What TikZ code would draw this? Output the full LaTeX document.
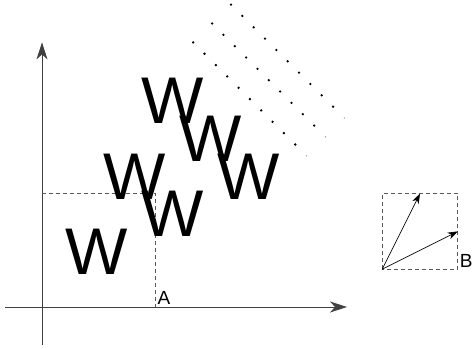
\documentclass[tikz,border=0pt]{standalone}
\usepackage{fontspec}
\setmainfont{Liberation Sans}
\usetikzlibrary{arrows.meta}

\tikzset{
  axis/.style={draw=black!75,line width=.8pt,-{Stealth[length=17pt,width=11pt,inset=5pt]}},
  guide/.style={draw=black!65,line width=.6pt,dash pattern=on 4pt off 3pt},
  vec/.style={draw,line width=.6pt,-{Stealth[length=10pt,width=7pt,inset=3pt]}},
  letter/.style={font=\fontsize{66}{66}\selectfont,inner sep=0pt},
  tag/.style={font=\fontsize{19}{19}\selectfont,inner sep=2pt,anchor=south west},
  dot/.style={fill=black},
}

\begin{document}
\begin{tikzpicture}[x=37.8pt,y=37.8pt]
  \useasboundingbox (-1.111,-1.085) rectangle (11.429,8.122);

  % axes
  \coordinate (xs) at (-0.98,0);
  \coordinate (xe) at (8.07,0);
  \coordinate (ys) at (0,-1);
  \coordinate (ye) at (0,7);
  \path[axis] (xs) -- (xe);
  \path[axis] (ys) -- (ye);

  % projection of A
  \coordinate (a) at (3,3);
  \coordinate (ax) at (3,0);
  \coordinate (ay) at (0,3);
  \path[guide] (ay) -- (a) -- (ax);
  \node[tag] (lblA) at (ax) {A};

  % the letters on the lattice
  \foreach \i/\j in {0/0,1/0,0/1,1/1,2/0,0/2}
    \node[letter] (w\i\j) at ({1.455+2*\i+\j},{1.455+\i+2*\j}) {W};

  % dotted rows
  \foreach \n in {11,12,13}{
    \foreach \k in {0,...,9}
      \path[dot] ({(\n-3)/2+0.3*\k},{(\n+3)/2-0.3*\k}) circle (1.3pt);
    \path[fill=black!40] ({(\n+3)/2},{(\n-3)/2}) circle (.7pt);
  }

  % basis vectors
  \coordinate (base) at (9,1);
  \coordinate (corner) at (11,3);
  \coordinate (tipv) at (10,3);
  \coordinate (tipu) at (11,2);
  \path[guide] (base) rectangle (corner);
  \path[vec] (base) -- (tipv);
  \path[vec] (base) -- (tipu);
  \node[tag] (lblB) at (11,1) {B};
\end{tikzpicture}
\end{document}
